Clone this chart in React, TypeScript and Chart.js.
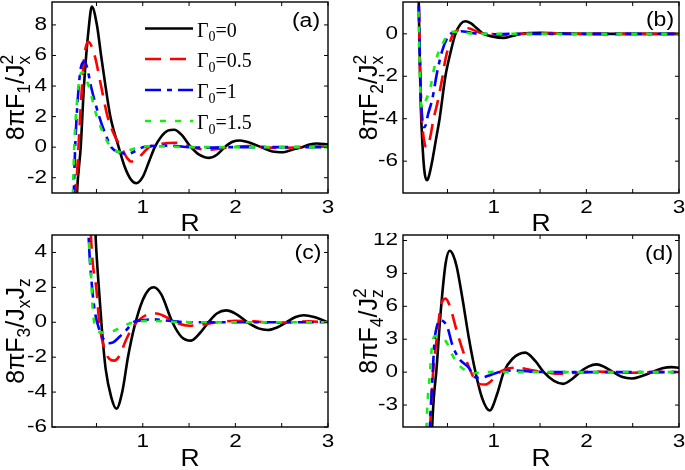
import React, { useEffect, useRef } from 'react';
import { Chart, registerables } from 'chart.js';

Chart.register(...registerables);

// ---------- shared series info ----------
const gammaValues = ['0', '0.5', '1', '1.5'];
const seriesColors = ['#000000', '#ff0000', '#0000ff', '#11ee11'];
const seriesDashes: number[][] = [[], [16, 9], [16, 6, 5, 6], [6, 9]];
const xTicks = [0.5, 1, 1.5, 2, 2.5, 3];
const xTickLabels = ['', '1', '', '2', '', '3'];

// ---------- panel (a) ----------
const aBlackX = [0.25, 0.29, 0.33, 0.365, 0.42, 0.45, 0.505, 0.55, 0.6, 0.65, 0.74, 0.8, 0.87, 0.93, 1.0, 1.07, 1.13, 1.2, 1.27, 1.34, 1.42, 1.52, 1.6, 1.72, 1.8, 1.885, 1.97, 2.05, 2.15, 2.28, 2.4, 2.52, 2.62, 2.72, 2.8, 2.88, 3.0];
const aBlackY = [-10, -3, 0, 4, 8, 9.2, 8, 6, 3.9, 2, 0, -1.2, -2.1, -2.36, -1.95, -0.9, 0, 0.7, 1.08, 1.14, 0.8, 0, -0.45, -0.7, -0.5, 0, 0.35, 0.44, 0.3, 0, -0.28, -0.33, -0.15, 0, 0.17, 0.24, 0.18];
const aRedX = [0.22, 0.27, 0.29, 0.317, 0.346, 0.37, 0.41, 0.48, 0.55, 0.62, 0.7, 0.767, 0.83, 0.875, 0.95, 1.07, 1.2, 1.36, 1.5, 1.6, 1.72, 1.85, 2.0, 2.15, 2.3, 2.5, 2.7, 2.9, 3.0];
const aRedY = [-10, -3, -1.7, 1.3, 4.2, 6.0, 6.9, 6.0, 4.0, 2.0, 0.7, 0, -0.7, -0.94, -0.7, 0, 0.22, 0.29, 0.05, -0.1, -0.17, -0.08, 0.03, 0.08, 0, -0.05, 0, 0.04, 0.03];
const aBlueX = [0.2, 0.255, 0.27, 0.3, 0.335, 0.37, 0.4, 0.44, 0.53, 0.6, 0.66, 0.75, 0.84, 0.92, 1.0, 1.1, 1.3, 1.5, 1.7, 2.0, 2.5, 3.0];
const aBlueY = [-10, -3, 0, 3.3, 5.3, 5.6, 5.2, 4.0, 2.0, 0.8, 0, -0.35, -0.44, -0.25, 0, 0.08, 0.1, 0, -0.03, 0, 0, 0];
const aGreenX = [0.19, 0.245, 0.26, 0.29, 0.32, 0.35, 0.39, 0.425, 0.48, 0.53, 0.62, 0.7, 0.78, 0.88, 1.0, 1.2, 1.5, 2.0, 3.0];
const aGreenY = [-10, -3, 0, 3.0, 4.6, 4.9, 4.4, 3.85, 2.5, 1.55, 0.33, -0.2, -0.33, -0.15, 0.05, 0.05, 0, 0, 0];
const aYTicks = [-2, 0, 2, 4, 6, 8];

// ---------- panel (b) ----------
const bBlackX = [0.17, 0.19, 0.21, 0.234, 0.255, 0.28, 0.3, 0.335, 0.375, 0.415, 0.478, 0.532, 0.586, 0.64, 0.694, 0.75, 0.82, 0.89, 0.98, 1.107, 1.2, 1.3, 1.5, 1.7, 2.0, 2.5, 3.0];
const bBlackY = [6, 1.5, -3.1, -5.5, -6.6, -6.9, -6.7, -6.0, -5.0, -4.0, -2.0, -0.9, 0, 0.45, 0.59, 0.5, 0.25, 0, -0.12, -0.19, -0.1, 0, 0.05, 0.02, 0, 0, 0];
const bRedX = [0.17, 0.19, 0.21, 0.235, 0.255, 0.274, 0.295, 0.317, 0.35, 0.389, 0.443, 0.478, 0.52, 0.56, 0.63, 0.7, 0.76, 0.85, 0.95, 1.1, 1.3, 1.5, 2.0, 3.0];
const bRedY = [6, 1.5, -2.8, -4.6, -5.2, -5.35, -5.2, -4.8, -4.0, -3.3, -2.1, -1.2, -0.5, 0, 0.2, 0.28, 0.22, 0.05, 0, -0.05, 0, 0.03, 0, 0];
const bBlueX = [0.17, 0.19, 0.21, 0.228, 0.245, 0.265, 0.29, 0.335, 0.389, 0.443, 0.514, 0.58, 0.65, 0.72, 0.8, 0.9, 1.0, 1.2, 1.5, 2.0, 3.0];
const bBlueY = [6, 1.5, -2.5, -4.0, -4.4, -4.3, -3.8, -3.1, -1.8, -0.8, -0.08, 0.08, 0.12, 0.08, 0.02, 0, -0.02, 0, 0, 0, 0];
const bGreenX = [0.16, 0.185, 0.205, 0.23, 0.26, 0.317, 0.352, 0.4, 0.45, 0.51, 0.58, 0.66, 0.75, 0.9, 1.2, 2.0, 3.0];
const bGreenY = [6, 1.5, -2.5, -3.5, -3.2, -2.5, -1.7, -0.9, -0.45, 0, 0.1, 0.08, 0.02, 0, 0, 0, 0];
const bYTicks = [-6, -4, -2, 0];

// ---------- panel (c) ----------
const cBlackX = [0.47, 0.49, 0.52, 0.56, 0.6, 0.66, 0.715, 0.78, 0.84, 0.91, 1.0, 1.07, 1.12, 1.2, 1.32, 1.42, 1.52, 1.62, 1.71, 1.8, 1.9, 2.0, 2.13, 2.25, 2.35, 2.45, 2.55, 2.65, 2.74, 2.85, 3.0];
const cBlackY = [8, 5, 2.4, -0.5, -2.7, -4.3, -4.95, -3.95, -2.0, -0.25, 1.28, 1.9, 2.01, 1.6, 0, -0.85, -1.05, -0.6, 0, 0.5, 0.68, 0.5, 0, -0.35, -0.44, -0.3, 0, 0.3, 0.4, 0.3, 0];
const cRedX = [0.42, 0.44, 0.46, 0.5, 0.53, 0.59, 0.64, 0.69, 0.75, 0.82, 0.91, 1.0, 1.08, 1.15, 1.25, 1.35, 1.5, 1.65, 1.8, 2.0, 2.2, 2.4, 2.6, 2.8, 3.0];
const cRedY = [8, 5, 3.4, 1.86, 0, -1.6, -2.1, -2.2, -1.9, -1.0, -0.15, 0.3, 0.48, 0.5, 0.3, 0, -0.2, -0.12, 0, 0.08, 0.05, -0.02, 0, 0.05, 0];
const cBlueX = [0.4, 0.415, 0.44, 0.48, 0.53, 0.58, 0.63, 0.68, 0.75, 0.83, 0.91, 1.0, 1.11, 1.25, 1.5, 2.0, 3.0];
const cBlueY = [8, 5, 2.8, 0.7, -0.4, -1.0, -1.2, -1.15, -0.83, -0.4, 0.03, 0.12, 0.17, 0.1, 0, 0, 0];
const cGreenX = [0.4, 0.415, 0.44, 0.46, 0.51, 0.55, 0.61, 0.67, 0.74, 0.82, 0.96, 1.1, 1.3, 1.6, 2.0, 3.0];
const cGreenY = [8, 5, 2.8, 0.7, -0.44, -0.58, -0.6, -0.54, -0.35, -0.15, 0.05, 0.08, 0.03, 0, 0, 0];
const cYTicks = [-6, -4, -2, 0, 2, 4];

// ---------- panel (d) ----------
const dBlackX = [0.31, 0.335, 0.352, 0.38, 0.425, 0.48, 0.525, 0.56, 0.6, 0.66, 0.73, 0.8, 0.874, 0.955, 1.04, 1.107, 1.2, 1.34, 1.45, 1.54, 1.65, 1.75, 1.85, 1.93, 2.02, 2.11, 2.2, 2.29, 2.39, 2.49, 2.6, 2.71, 2.82, 2.92, 3.0];
const dBlackY = [-12, -5, -2.4, 0.1, 5.3, 9.9, 11.07, 10.7, 9.6, 6.8, 3.16, 0.1, -2.36, -3.5, -1.9, 0, 1.2, 1.78, 1.0, 0, -0.8, -1.07, -0.6, 0, 0.5, 0.71, 0.45, 0, -0.45, -0.58, -0.35, 0, 0.35, 0.46, 0.4];
const dRedX = [0.29, 0.317, 0.345, 0.39, 0.425, 0.48, 0.53, 0.6, 0.68, 0.75, 0.82, 0.91, 0.98, 1.05, 1.12, 1.25, 1.4, 1.55, 1.72, 1.9, 2.1, 2.3, 2.5, 2.7, 2.9, 3.0];
const dRedY = [-12, -4.2, 0, 3.47, 5.9, 6.7, 5.9, 3.77, 1.63, 0.1, -0.98, -1.13, -0.75, -0.1, 0.25, 0.4, 0.2, 0, -0.15, -0.05, 0.05, 0, -0.05, 0, 0.03, 0];
const dBlueX = [0.28, 0.31, 0.335, 0.36, 0.39, 0.425, 0.46, 0.5, 0.55, 0.62, 0.73, 0.8, 0.855, 0.95, 1.05, 1.2, 1.4, 1.7, 2.0, 3.0];
const dBlueY = [-12, -5, -1, 2.8, 4.3, 4.75, 4.6, 4.1, 2.55, 1.3, 0.4, -0.46, -0.52, -0.3, 0, 0.15, 0.05, 0, 0, 0];
const dGreenX = [0.25, 0.28, 0.31, 0.335, 0.37, 0.41, 0.48, 0.57, 0.64, 0.71, 0.76, 0.85, 1.0, 1.2, 1.5, 2.0, 3.0];
const dGreenY = [-12, -3.6, -0.2, 2.55, 3.3, 3.2, 2.85, 1.3, 0.5, 0.1, -0.1, -0.05, 0.02, 0, 0, 0, 0];
const dYTicks = [-3, 0, 3, 6, 9, 12];

// ---------- fonts ----------
const SANS = "'Liberation Sans', Arial, sans-serif";
const SERIF = "'Liberation Serif', 'Times New Roman', serif";
const TICK_STRETCH = 1.25;
const TEXT_STRETCH = 1.15;

type Part = { t: string; m?: 'sub' | 'sup'; stack?: boolean };

function layoutRich(ctx: CanvasRenderingContext2D, parts: Part[], size: number, fam: string) {
  const items: { t: string; x: number; dy: number; font: string }[] = [];
  let x = 0;
  let prevStart = 0;
  for (const p of parts) {
    const s = p.m ? size * 0.7 : size;
    const font = `${s}px ${fam}`;
    ctx.font = font;
    const w = ctx.measureText(p.t).width;
    const start = p.stack ? prevStart : x;
    const dy = p.m === 'sub' ? size * 0.24 : p.m === 'sup' ? -size * 0.45 : 0;
    items.push({ t: p.t, x: start, dy, font });
    if (p.stack) x = Math.max(x, start + w);
    else { prevStart = start; x = start + w; }
  }
  return { items, width: x };
}

function drawRich(ctx: CanvasRenderingContext2D, parts: Part[], x0: number, y0: number, size: number, fam: string, center: boolean) {
  const { items, width } = layoutRich(ctx, parts, size, fam);
  const off = center ? -width / 2 : 0;
  ctx.textAlign = 'left';
  ctx.textBaseline = 'alphabetic';
  for (const it of items) {
    ctx.font = it.font;
    ctx.fillText(it.t, x0 + off + it.x, y0 + it.dy);
  }
}

function stretchedText(ctx: CanvasRenderingContext2D, text: string, x: number, y: number, sx: number, align: CanvasTextAlign) {
  ctx.save();
  ctx.translate(x, y);
  ctx.scale(sx, 1);
  ctx.textAlign = align;
  ctx.textBaseline = 'middle';
  ctx.fillText(text, 0, 0);
  ctx.restore();
}

type PanelCfg = {
  key: string;
  left: number; top: number; w: number; h: number;
  areaL: number; areaT: number; areaR: number; areaB: number;
  yMin: number; yMax: number; yTicks: number[];
  xs: number[][]; ys: number[][];
  title: Part[]; titleX: number;
  tag: string; tagX: number; tagY: number;
  rY: number;
  legend: boolean;
};

const panels: PanelCfg[] = [
  {
    key: 'a', left: 0, top: 0, w: 342, h: 233,
    areaL: 52, areaT: 2, areaR: 328, areaB: 193,
    yMin: -3, yMax: 9.5, yTicks: aYTicks,
    xs: [aBlackX, aRedX, aBlueX, aGreenX], ys: [aBlackY, aRedY, aBlueY, aGreenY],
    title: [{ t: '8πF' }, { t: '1', m: 'sub' }, { t: '/J' }, { t: 'x', m: 'sub' }, { t: '2', m: 'sup', stack: true }],
    titleX: 24, tag: '(a)', tagX: 306, tagY: 21, rY: 225, legend: true,
  },
  {
    key: 'b', left: 342, top: 0, w: 343, h: 233,
    areaL: 61, areaT: 2, areaR: 337, areaB: 193,
    yMin: -7.5, yMax: 1.5, yTicks: bYTicks,
    xs: [bBlackX, bRedX, bBlueX, bGreenX], ys: [bBlackY, bRedY, bBlueY, bGreenY],
    title: [{ t: '8πF' }, { t: '2', m: 'sub' }, { t: '/J' }, { t: 'x', m: 'sub' }, { t: '2', m: 'sup', stack: true }],
    titleX: 35, tag: '(b)', tagX: 318, tagY: 20, rY: 225, legend: false,
  },
  {
    key: 'c', left: 0, top: 233, w: 342, h: 237,
    areaL: 52, areaT: 2, areaR: 328, areaB: 194,
    yMin: -6, yMax: 5, yTicks: cYTicks,
    xs: [cBlackX, cRedX, cBlueX, cGreenX], ys: [cBlackY, cRedY, cBlueY, cGreenY],
    title: [{ t: '8πF' }, { t: '3', m: 'sub' }, { t: '/J' }, { t: 'x', m: 'sub' }, { t: 'J' }, { t: 'z', m: 'sub' }],
    titleX: 24, tag: '(c)', tagX: 308, tagY: 20, rY: 227, legend: false,
  },
  {
    key: 'd', left: 342, top: 233, w: 343, h: 237,
    areaL: 61, areaT: 2, areaR: 337, areaB: 194,
    yMin: -5, yMax: 12.5, yTicks: dYTicks,
    xs: [dBlackX, dRedX, dBlueX, dGreenX], ys: [dBlackY, dRedY, dBlueY, dGreenY],
    title: [{ t: '8πF' }, { t: '4', m: 'sub' }, { t: '/J' }, { t: 'z', m: 'sub' }, { t: '2', m: 'sup', stack: true }],
    titleX: 35, tag: '(d)', tagX: 317, tagY: 21, rY: 227, legend: false,
  },
];

const X_AXIS_H = 30;

function makeDecor(p: PanelCfg) {
  return {
    id: 'decor_' + p.key,
    afterDraw(chart: any) {
      const ctx: CanvasRenderingContext2D = chart.ctx;
      const { left, right, top, bottom } = chart.chartArea;
      const xs = chart.scales.x;
      const ys = chart.scales.y;
      ctx.save();
      ctx.setLineDash([]);
      ctx.strokeStyle = '#000';
      ctx.lineWidth = 1.4;
      ctx.strokeRect(left, top, right - left, bottom - top);
      const tl = 4;
      ctx.lineWidth = 1;
      ctx.beginPath();
      for (const v of xTicks) {
        const px = xs.getPixelForValue(v);
        ctx.moveTo(px, bottom); ctx.lineTo(px, bottom - tl);
        ctx.moveTo(px, top); ctx.lineTo(px, top + tl);
      }
      for (const v of p.yTicks) {
        const py = ys.getPixelForValue(v);
        ctx.moveTo(left, py); ctx.lineTo(left + tl, py);
        ctx.moveTo(right, py); ctx.lineTo(right - tl, py);
      }
      ctx.stroke();

      ctx.fillStyle = '#000';
      // tick labels
      ctx.font = `18px ${SANS}`;
      xTicks.forEach((v, i) => {
        if (xTickLabels[i]) stretchedText(ctx, xTickLabels[i], xs.getPixelForValue(v), bottom + 15, TICK_STRETCH, 'center');
      });
      p.yTicks.forEach((v) => {
        stretchedText(ctx, String(v), left - 5, ys.getPixelForValue(v), TICK_STRETCH, 'right');
      });

      // y title (rotated)
      ctx.save();
      ctx.translate(p.titleX, (top + bottom) / 2);
      ctx.rotate(-Math.PI / 2);
      drawRich(ctx, p.title, 0, 0, 25, SANS, true);
      ctx.restore();

      // x title
      ctx.font = `23px ${SANS}`;
      stretchedText(ctx, 'R', (left + right) / 2, p.rY, TEXT_STRETCH, 'center');

      // panel tag
      ctx.font = `20px ${SANS}`;
      stretchedText(ctx, p.tag, p.tagX, p.tagY, TEXT_STRETCH, 'center');

      // legend
      if (p.legend) {
        const rows = [28.5, 59, 90, 121];
        for (let i = 0; i < 4; i++) {
          const y = rows[i];
          ctx.strokeStyle = seriesColors[i];
          ctx.lineWidth = 2.6;
          ctx.setLineDash(seriesDashes[i]);
          ctx.beginPath();
          ctx.moveTo(145, y);
          ctx.lineTo(193, y);
          ctx.stroke();
          ctx.setLineDash([]);
          ctx.fillStyle = '#000';
          drawRich(ctx, [{ t: 'Γ' }, { t: '0', m: 'sub' }, { t: '=' + gammaValues[i] }], 197, y + 8, 20, SERIF, false);
        }
      }
      ctx.restore();
    },
  };
}

function PanelChart({ p }: { p: PanelCfg }) {
  const ref = useRef<HTMLCanvasElement>(null);
  useEffect(() => {
    const canvas = ref.current!;
    const datasets = p.xs.map((xArr, i) => ({
      label: 'Γ0=' + gammaValues[i],
      data: xArr.map((x, j) => ({ x, y: p.ys[i][j] })),
      borderColor: seriesColors[i],
      backgroundColor: seriesColors[i],
      borderWidth: 2.6,
      borderDash: seriesDashes[i],
      pointRadius: 0,
      fill: false,
      cubicInterpolationMode: 'monotone' as const,
      clip: 0,
      order: 3 - i,
    }));
    const chart = new Chart(canvas, {
      type: 'line',
      data: { datasets },
      plugins: [makeDecor(p)],
      options: {
        animation: false,
        responsive: false,
        maintainAspectRatio: false,
        layout: {
          padding: {
            left: 0,
            top: p.areaT,
            right: p.w - p.areaR,
            bottom: p.h - p.areaB - X_AXIS_H,
          },
        },
        elements: { line: { capBezierPoints: false } },
        plugins: { legend: { display: false }, tooltip: { enabled: false } },
        scales: {
          x: {
            type: 'linear',
            min: 0.02,
            max: 3,
            afterBuildTicks: (s: any) => { s.ticks = xTicks.map((v) => ({ value: v })); },
            afterFit: (s: any) => { s.height = X_AXIS_H; },
            grid: { display: false, drawTicks: false },
            border: { display: false },
            ticks: { display: false },
          },
          y: {
            type: 'linear',
            min: p.yMin,
            max: p.yMax,
            afterBuildTicks: (s: any) => { s.ticks = p.yTicks.map((v) => ({ value: v })); },
            afterFit: (s: any) => { s.width = p.areaL; },
            grid: { display: false, drawTicks: false },
            border: { display: false },
            ticks: { display: false },
          },
        },
      } as any,
    });
    return () => chart.destroy();
  }, [p]);
  return (
    <canvas
      ref={ref}
      width={p.w}
      height={p.h}
      style={{ position: 'absolute', left: p.left, top: p.top, width: p.w, height: p.h }}
    />
  );
}

export default function App() {
  return (
    <div style={{ position: 'fixed', left: 0, top: 0, width: 685, height: 470, background: '#ffffff', overflow: 'hidden' }}>
      {panels.map((p) => (
        <PanelChart key={p.key} p={p} />
      ))}
    </div>
  );
}
